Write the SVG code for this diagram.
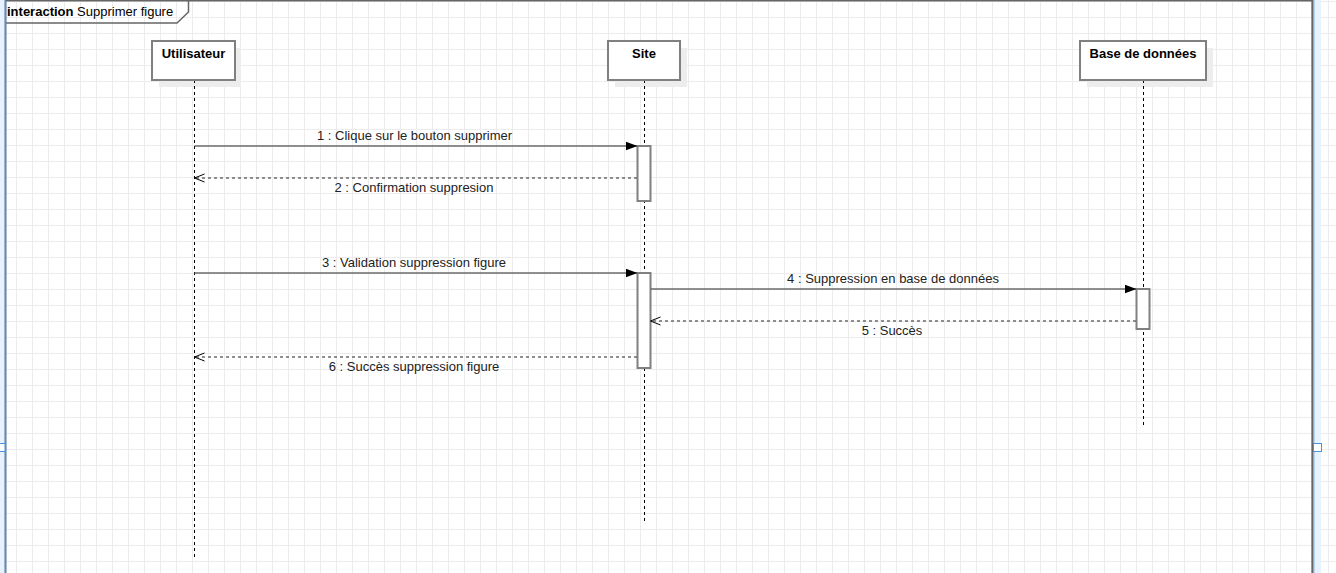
<svg xmlns="http://www.w3.org/2000/svg" width="1336" height="573" viewBox="0 0 1336 573">
<defs>
<pattern id="grid" x="0" y="1" width="16" height="16" patternUnits="userSpaceOnUse">
<path d="M0.5 0 V16 M0 0.5 H16" fill="none" stroke="#ececec" stroke-width="1"/>
</pattern>
<marker id="filled" viewBox="0 0 12 10" refX="11.5" refY="5" markerWidth="12" markerHeight="10" markerUnits="userSpaceOnUse" orient="auto">
<path d="M0 0.5 L12 5 L0 9.5 Z" fill="#000"/>
</marker>
<marker id="open" viewBox="0 0 12 10" refX="11" refY="5" markerWidth="12" markerHeight="10" markerUnits="userSpaceOnUse" orient="auto">
<path d="M1 1 L11 5 L1 9" fill="none" stroke="#000" stroke-width="1"/>
</marker>
</defs>
<style>
.lbl{font-family:"Liberation Sans",Arial,sans-serif;font-size:13px;fill:#000}
.msg{font-family:"Liberation Sans",Arial,sans-serif;font-size:13px;fill:#222;text-anchor:middle}
.head{fill:#fff;stroke:#808080;stroke-width:2}
.shadow{fill:#ededed}
.title{font-family:"Liberation Sans",Arial,sans-serif;font-size:13px;font-weight:bold;text-anchor:middle;fill:#000}
.life{stroke:#000;stroke-width:1;stroke-dasharray:3 3;fill:none}
.act{fill:#fff;stroke:#808080;stroke-width:2}
.call{stroke:#6b6b6b;stroke-width:1.5;fill:none;marker-end:url(#filled)}
.ret{stroke:#6b6b6b;stroke-width:1.5;stroke-dasharray:3 3;fill:none;marker-end:url(#open)}
</style>
<rect width="1336" height="573" fill="#fff"/>
<rect width="1336" height="573" fill="url(#grid)"/>

<g id="frame">
<rect x="0" y="0" width="5" height="573" fill="#e8f2fe"/>
<rect x="1314" y="0" width="7" height="573" fill="#e8f2fe"/>
<path d="M5.5 573 V0.75 H1312.2 V573" fill="none" stroke="#666" stroke-width="1.7"/>
<path d="M5 23 H177 L188.5 12 V0.75" fill="none" stroke="#666" stroke-width="1.5"/>
<text x="7" y="16" class="lbl"><tspan font-weight="bold">interaction</tspan> Supprimer figure</text>
<line x1="5.5" y1="0" x2="5.5" y2="573" stroke="#4a90e2" stroke-width="1.5"/>
<line x1="1313.8" y1="0" x2="1313.8" y2="573" stroke="#4a90e2" stroke-width="1"/>
<rect x="-1" y="443.5" width="6" height="8" fill="#fff" stroke="#4a90e2" stroke-width="1"/>
<rect x="1313.5" y="443.5" width="8" height="8" fill="#fff" stroke="#4a90e2" stroke-width="1"/>
</g>

<g id="utilisateur">
<rect x="159" y="48" width="82" height="39" class="shadow"/>
<line x1="194.5" y1="80" x2="194.5" y2="558" class="life"/>
<rect x="152" y="41" width="83" height="39" class="head"/>
<text x="193.5" y="58" class="title">Utilisateur</text>
</g>

<g id="site">
<rect x="615" y="48" width="72" height="39" class="shadow"/>
<line x1="644.5" y1="80" x2="644.5" y2="521" class="life"/>
<rect x="608" y="41" width="72" height="39" class="head"/>
<text x="644" y="58" class="title">Site</text>
</g>

<g id="bdd">
<rect x="1087" y="48" width="126" height="39" class="shadow"/>
<line x1="1143.5" y1="80" x2="1143.5" y2="425" class="life"/>
<rect x="1080" y="41" width="126" height="39" class="head"/>
<text x="1143" y="58" class="title">Base de données</text>
</g>

<g id="activations">
<rect x="637.5" y="146" width="13" height="55" class="act"/>
<rect x="637.5" y="273" width="13" height="95" class="act"/>
<rect x="1136.5" y="289" width="13" height="40" class="act"/>
</g>

<g id="connectors">
<line x1="194.5" y1="146" x2="637" y2="146" class="call"/>
<text x="414.5" y="140" class="msg">1 : Clique sur le bouton supprimer</text>
<line x1="637" y1="178" x2="194.5" y2="178" class="ret"/>
<text x="414" y="192" class="msg">2 : Confirmation suppresion</text>
<line x1="194.5" y1="273" x2="637" y2="273" class="call"/>
<text x="414" y="267" class="msg">3 : Validation suppression figure</text>
<line x1="650.5" y1="289" x2="1136" y2="289" class="call"/>
<text x="893" y="283" class="msg">4 : Suppression en base de données</text>
<line x1="1136" y1="321" x2="650.5" y2="321" class="ret"/>
<text x="892" y="334.5" class="msg">5 : Succès</text>
<line x1="637" y1="357" x2="194.5" y2="357" class="ret"/>
<text x="414" y="371" class="msg">6 : Succès suppression figure</text>
</g>
</svg>
